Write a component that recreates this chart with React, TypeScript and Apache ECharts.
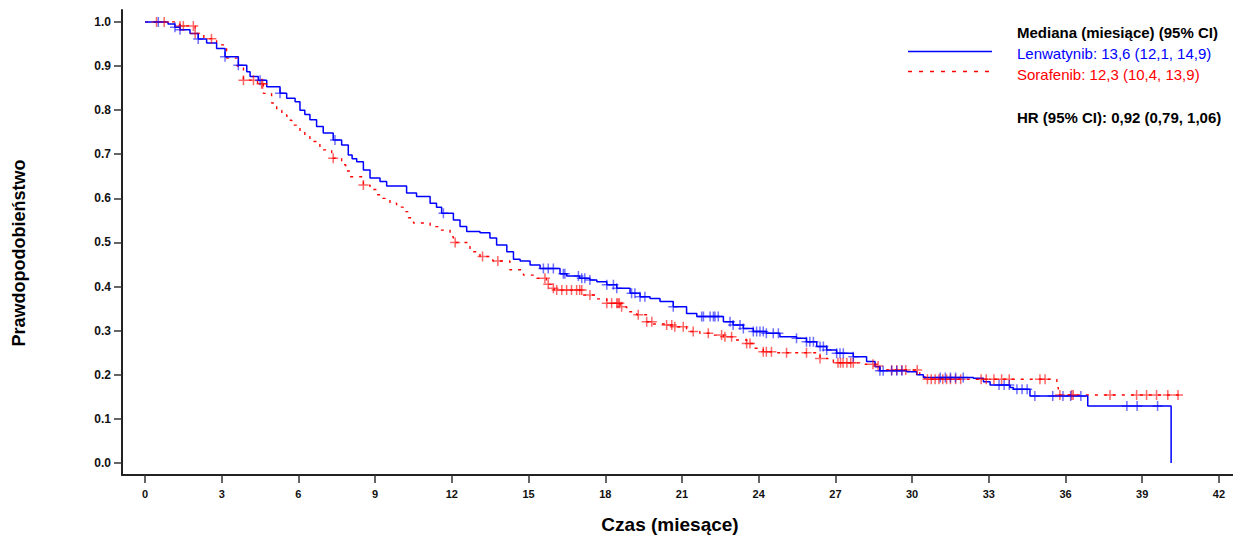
import React, { useEffect, useRef } from "react";
import * as echarts from "echarts";

// ---- Data ----
const xTicks = [0, 3, 6, 9, 12, 15, 18, 21, 24, 27, 30, 33, 36, 39, 42];
const yTicks = [0, 0.1, 0.2, 0.3, 0.4, 0.5, 0.6, 0.7, 0.8, 0.9, 1.0];

const lenTimes = [0, 0.9, 1.17, 1.37, 1.76, 2.08, 2.41, 2.8, 3.13, 3.65, 3.98, 4.11, 4.43, 4.76, 5.28, 5.54, 5.87, 6.06, 6.25, 6.45, 6.71, 6.97, 7.36, 7.69, 7.95, 8.1, 8.28, 8.54, 8.8, 9.19, 9.45, 10.23, 10.62, 11.15, 11.4, 11.6, 12.06, 12.32, 12.58, 13.1, 13.49, 13.75, 14.15, 14.41, 14.67, 15.06, 15.45, 16.23, 16.49, 17.0, 17.4, 17.67, 18.06, 18.45, 18.97, 19.36, 19.75, 20.14, 20.66, 21.18, 21.58, 22.62, 23.0, 23.4, 23.79, 24.3, 24.83, 25.48, 25.87, 26.27, 26.66, 27.05, 27.7, 28.22, 28.55, 28.74, 29.79, 30.18, 30.44, 32.4, 32.79, 33.05, 33.83, 33.96, 34.61, 36.87, 40.13];
const lenSurv = [1.0, 0.995, 0.988, 0.982, 0.974, 0.961, 0.952, 0.94, 0.921, 0.902, 0.887, 0.876, 0.868, 0.853, 0.838, 0.827, 0.819, 0.8, 0.79, 0.778, 0.763, 0.748, 0.732, 0.721, 0.698, 0.69, 0.683, 0.664, 0.646, 0.638, 0.628, 0.612, 0.604, 0.589, 0.58, 0.566, 0.551, 0.536, 0.525, 0.522, 0.51, 0.494, 0.479, 0.462, 0.458, 0.449, 0.441, 0.429, 0.424, 0.419, 0.415, 0.411, 0.404, 0.396, 0.385, 0.377, 0.373, 0.366, 0.354, 0.339, 0.332, 0.32, 0.313, 0.305, 0.298, 0.294, 0.286, 0.283, 0.275, 0.264, 0.256, 0.249, 0.241, 0.23, 0.218, 0.209, 0.207, 0.2, 0.194, 0.192, 0.184, 0.177, 0.171, 0.167, 0.152, 0.129, 0.0];
const lenCensored = [0.52, 1.17, 1.37, 2.08, 3.13, 3.65, 4.5, 5.28, 7.43, 11.67, 15.58, 15.77, 15.97, 16.36, 16.42, 16.95, 17.08, 17.2, 17.4, 18.06, 18.32, 18.45, 19.03, 19.16, 19.36, 19.55, 20.66, 21.77, 21.84, 22.1, 22.23, 22.29, 22.42, 22.88, 23.0, 23.27, 23.4, 23.79, 23.92, 24.05, 24.18, 24.3, 24.57, 24.77, 25.48, 25.87, 26.0, 26.14, 26.4, 26.53, 26.66, 27.05, 27.18, 27.31, 27.7, 28.74, 28.87, 29.2, 29.4, 29.6, 31.1, 31.3, 31.5, 31.7, 32.0, 33.4, 33.6, 33.8, 34.1, 34.3, 34.5, 34.8, 35.5, 35.9, 36.2, 36.6, 38.4, 38.8, 39.6];

const sorTimes = [0, 1.2, 1.37, 1.96, 2.3, 2.8, 3.19, 3.6, 3.85, 4.4, 4.63, 4.95, 5.15, 5.35, 5.55, 5.74, 6.06, 6.25, 6.45, 6.84, 7.3, 7.69, 7.85, 8.02, 8.54, 8.8, 9.06, 9.3, 9.58, 9.84, 10.1, 10.3, 10.5, 11.15, 11.54, 11.93, 12.06, 12.71, 13.1, 13.6, 14.27, 14.8, 15.32, 15.7, 15.9, 16.0, 17.14, 17.6, 18.06, 18.58, 18.84, 19.23, 19.62, 19.88, 20.4, 20.66, 21.18, 21.7, 22.23, 22.62, 23.0, 23.53, 23.79, 24.18, 24.57, 26.4, 26.92, 27.96, 28.6, 28.74, 30.3, 30.5, 35.66, 35.72, 40.5];
const sorSurv = [1.0, 0.995, 0.991, 0.974, 0.962, 0.948, 0.918, 0.9, 0.868, 0.86, 0.838, 0.816, 0.8, 0.789, 0.777, 0.766, 0.751, 0.74, 0.729, 0.71, 0.691, 0.676, 0.662, 0.649, 0.63, 0.62, 0.608, 0.6, 0.589, 0.58, 0.57, 0.556, 0.544, 0.536, 0.528, 0.513, 0.5, 0.479, 0.468, 0.458, 0.438, 0.426, 0.419, 0.405, 0.396, 0.392, 0.381, 0.372, 0.362, 0.354, 0.343, 0.336, 0.32, 0.315, 0.313, 0.309, 0.298, 0.294, 0.29, 0.286, 0.279, 0.271, 0.26, 0.252, 0.25, 0.237, 0.227, 0.224, 0.22, 0.211, 0.2, 0.19, 0.171, 0.154, 0.154];
const sorCensored = [0.45, 0.75, 1.37, 1.5, 1.89, 1.96, 2.6, 3.85, 4.24, 4.56, 4.6, 7.36, 8.54, 12.13, 13.2, 13.8, 15.64, 15.77, 15.97, 16.1, 16.3, 16.49, 16.68, 16.88, 17.0, 17.08, 17.4, 18.06, 18.25, 18.45, 18.5, 18.55, 18.64, 19.29, 19.62, 19.82, 20.4, 20.6, 20.72, 21.05, 21.44, 22.03, 22.55, 22.68, 22.94, 23.53, 23.66, 24.18, 24.3, 24.5, 25.09, 25.87, 26.4, 27.1, 27.2, 27.3, 27.45, 27.6, 27.7, 28.47, 28.67, 29.2, 29.4, 29.6, 29.75, 30.2, 30.6, 30.75, 30.9, 31.05, 31.2, 31.35, 31.5, 31.7, 31.9, 32.7, 32.9, 33.2, 33.5, 33.8, 35.0, 35.2, 35.78, 36.24, 36.3, 37.74, 38.78, 39.17, 39.56, 40.0, 40.4];

const legendTitle = "Mediana (miesiące) (95% CI)";
const legendLen = "Lenwatynib: 13,6 (12,1, 14,9)";
const legendSor = "Sorafenib: 12,3 (10,4, 13,9)";
const hrText = "HR (95% CI): 0,92 (0,79, 1,06)";
const xName = "Czas (miesące)";
const yName = "Prawdopodobieństwo";

// ---- helpers ----
const survAt = (times: number[], surv: number[], t: number) => {
  let v = surv[0];
  for (let i = 0; i < times.length; i++) {
    if (times[i] <= t) v = surv[i];
    else break;
  }
  return v;
};

const FONT = 'Arial, "Liberation Sans", Helvetica, sans-serif';
const PLUS = "path://M8.5,0h3v20h-3z M0,8.5h20v3h-20z";
const BLUE = "#0000ff";
const RED = "#ff0000";

const textStyle = (text: string, fill: string, font: string, align = "left") => ({
  text,
  fill,
  font,
  textAlign: align,
  textVerticalAlign: "middle",
  align,
  verticalAlign: "middle",
});

export default function App() {
  const ref = useRef<HTMLDivElement>(null);
  useEffect(() => {
    if (!ref.current) return;
    const chart = echarts.init(ref.current, null, { renderer: "svg" });
    const lenLine = lenTimes.map((t, i) => [t, lenSurv[i]]);
    const sorLine = sorTimes.map((t, i) => [t, sorSurv[i]]);
    const lenCens = lenCensored.map((t) => [t, survAt(lenTimes, lenSurv, t)]);
    const sorCens = sorCensored.map((t) => [t, survAt(sorTimes, sorSurv, t)]);

    const axisLabelStyle = {
      fontFamily: FONT,
      fontWeight: "bold" as const,
      color: "#111",
    };

    chart.setOption({
      animation: false,
      backgroundColor: "#fff",
      grid: { left: 122, right: 0, top: 10, bottom: 60, containLabel: false },
      xAxis: {
        type: "value",
        min: -0.9,
        max: 42.55,
        splitLine: { show: false },
        axisLine: { onZero: false, lineStyle: { color: "#222", width: 2 } },
        axisTick: {
          customValues: xTicks,
          length: 8,
          lineStyle: { color: "#333", width: 1.5 },
        },
        axisLabel: {
          customValues: xTicks,
          ...axisLabelStyle,
          fontSize: 11,
          margin: 13,
        },
      },
      yAxis: {
        type: "value",
        min: -0.0272,
        max: 1.027,
        splitLine: { show: false },
        axisLine: { show: true, onZero: false, lineStyle: { color: "#222", width: 2 } },
        axisTick: {
          show: true,
          customValues: yTicks,
          length: 8,
          lineStyle: { color: "#333", width: 1.5 },
        },
        axisLabel: {
          customValues: yTicks,
          ...axisLabelStyle,
          fontSize: 12,
          margin: 11,
          formatter: (v: number) => v.toFixed(1),
        },
      },
      series: [
        {
          type: "line",
          name: "Sorafenib",
          data: sorLine,
          step: "end",
          showSymbol: false,
          lineStyle: { color: RED, width: 1.4, type: [3, 6] },
          z: 2,
        },
        {
          type: "line",
          name: "Lenwatynib",
          data: lenLine,
          step: "end",
          showSymbol: false,
          lineStyle: { color: BLUE, width: 1.5 },
          z: 3,
        },
        {
          type: "scatter",
          data: sorCens,
          symbol: PLUS,
          symbolSize: 10,
          itemStyle: { color: "rgba(255,0,0,0.75)" },
          z: 4,
        },
        {
          type: "scatter",
          data: lenCens,
          symbol: PLUS,
          symbolSize: 10,
          itemStyle: { color: "rgba(0,0,255,0.7)" },
          z: 5,
        },
      ],
      graphic: [
        {
          type: "line",
          shape: { x1: 908, y1: 51.5, x2: 992, y2: 51.5 },
          style: { stroke: BLUE, lineWidth: 1.5 },
        },
        {
          type: "line",
          shape: { x1: 908, y1: 71.5, x2: 992, y2: 71.5 },
          style: { stroke: RED, fill: RED, lineWidth: 1.6, lineDash: [4, 7] },
        },
        { type: "text", x: 1017, y: 32, style: textStyle(legendTitle, "#000", `bold 15px ${FONT}`) },
        { type: "text", x: 1017, y: 53, style: textStyle(legendLen, BLUE, `15px ${FONT}`) },
        { type: "text", x: 1017, y: 74, style: textStyle(legendSor, RED, `15px ${FONT}`) },
        { type: "text", x: 1017, y: 117, style: textStyle(hrText, "#000", `bold 15px ${FONT}`) },
        { type: "text", x: 670, y: 524, style: textStyle(xName, "#000", `bold 19px ${FONT}`, "center") },
        {
          type: "text",
          x: 19,
          y: 253,
          rotation: Math.PI / 2,
          style: textStyle(yName, "#000", `bold 18px ${FONT}`, "center"),
        },
      ],
    });
    return () => chart.dispose();
  }, []);

  return (
    <div
      ref={ref}
      style={{ position: "fixed", left: 0, top: 0, width: 1233, height: 535, background: "#fff" }}
    />
  );
}
